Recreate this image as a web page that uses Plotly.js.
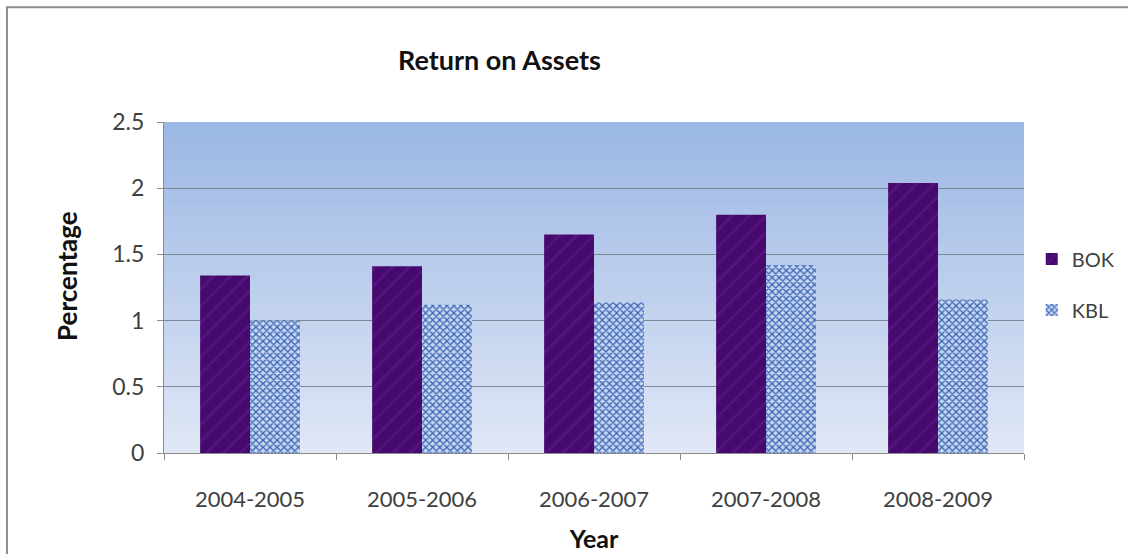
<!DOCTYPE html>
<html><head><meta charset="utf-8">
<script src="https://cdn.plot.ly/plotly-3.0.1.min.js"></script>
<style>html,body{margin:0;padding:0;background:#fff}#c{width:1128px;height:554px}</style>
</head><body><div id="c"></div>
<script>
const years = ["2004-2005","2005-2006","2006-2007","2007-2008","2008-2009"];
const bok = [1.34, 1.41, 1.65, 1.80, 2.04];
const kbl = [1.00, 1.12, 1.14, 1.42, 1.16];
const yTicks = [0, 0.5, 1, 1.5, 2, 2.5];
const yTickText = ["0", "0.5", "1", "1.5", "2", "2.5"];

const FONT = "Lato, 'Open Sans', sans-serif";

// gradient background bands for plot area
const shapes = [];
const N = 60;
const topRGB = [155, 183, 228], botRGB = [224, 231, 246];
for (let i = 0; i < N; i++) {
  const t = i / (N - 1);
  const c = topRGB.map((v, k) => Math.round(v + (botRGB[k] - v) * t));
  shapes.push({type:'rect', xref:'x domain', yref:'y domain', x0:0, x1:1,
    y0: Math.max(0, 1 - (i + 1) / N - 0.004), y1: 1 - i / N, line:{width:0},
    fillcolor:`rgb(${c[0]},${c[1]},${c[2]})`, layer:'below'});
}
// outer chart border
shapes.push({type:'rect', xref:'paper', yref:'paper', x0:-0.1826, x1:1.6, y0:-0.8, y1:1.347,
  line:{color:'#8c8c8c', width:2}, fillcolor:'rgba(0,0,0,0)', layer:'above'});

const traces = [
  {type:'bar', name:'BOK', x:years, y:bok, legendgroup:'a',
   marker:{color:'#4a0b73', line:{width:0},
     pattern:{shape:'/', fgcolor:'#56147f', bgcolor:'#460a6e', size:12, solidity:0.2}}},
  {type:'bar', name:'KBL', x:years, y:kbl, legendgroup:'b',
   marker:{color:'#a9c0ea', line:{width:0},
     pattern:{shape:'x', fgcolor:'#3a64b4', bgcolor:'#c6d6f2', size:5, solidity:0.45}}}
];

const layout = {
  width:1128, height:554,
  margin:{l:164, r:104, t:122, b:101, autoexpand:false},
  paper_bgcolor:'#ffffff', plot_bgcolor:'rgba(0,0,0,0)',
  font:{family:FONT, color:'#404040', size:16},
  title:{text:'<b>Return on Assets</b>', x:0.39, xref:'paper', xanchor:'center',
    y:0.89, yanchor:'middle', font:{family:FONT, size:27, color:'#111111'}},
  barmode:'group', bargap:0.42, bargroupgap:0,
  xaxis:{type:'category', showgrid:false, showline:true, linecolor:'#8c8c8c', linewidth:1,
    ticks:'outside', tickson:'boundaries', ticklen:6, tickcolor:'#8c8c8c',
    ticklabelstandoff:27,
    tickfont:{family:FONT, size:22, color:'#404040'},
    title:{text:'<b>Year</b>', standoff:19, font:{family:FONT, size:25, color:'#111111'}}},
  yaxis:{range:[0,2.5], tickvals:yTicks, ticktext:yTickText, showgrid:true,
    gridcolor:'#7f8796', gridwidth:1, showline:true, linecolor:'#8c8c8c', linewidth:1,
    ticks:'outside', ticklen:6, tickcolor:'#8c8c8c', zeroline:false,
    ticklabelstandoff:8,
    tickfont:{family:FONT, size:23, color:'#404040'}},
  annotations:[{text:'<b>Percentage</b>', xref:'paper', yref:'paper', x:-0.1128, y:0.535,
    xanchor:'center', yanchor:'middle', textangle:-90, showarrow:false,
    font:{family:FONT, size:26, color:'#111111'}}],
  legend:{x:1.009, xanchor:'left', y:0.645, yanchor:'top', traceorder:'grouped',
    tracegroupgap:22, font:{family:FONT, size:20, color:'#404040'}, bgcolor:'rgba(0,0,0,0)'},
  shapes:shapes,
  showlegend:true
};
Plotly.newPlot('c', traces, layout, {displayModeBar:false, staticPlot:true});
</script></body></html>
